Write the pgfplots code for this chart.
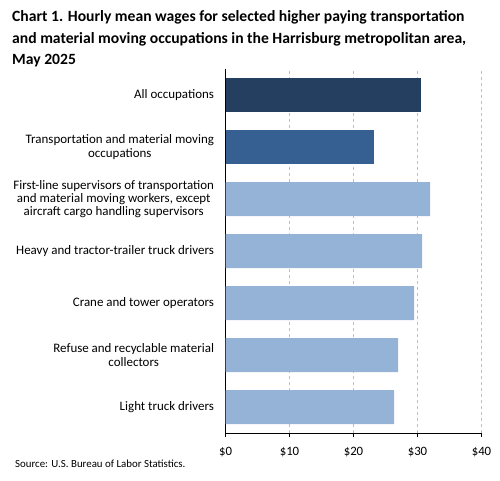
\documentclass[border=0pt]{standalone}
\usepackage{pgfplots}
\pgfplotsset{compat=1.18}
\usepackage{fontspec}
\setmainfont{Carlito}
\definecolor{cdark}{HTML}{243F60}
\definecolor{cmid}{HTML}{366092}
\definecolor{clight}{HTML}{95B3D7}
\begin{document}
\begin{tikzpicture}[x=1bp,y=1bp]
\path[use as bounding box] (0,0) rectangle (500,-481);
\begin{scope}[every node/.style={anchor=base west, inner sep=0pt, font=\fontsize{15.7}{18}\selectfont\bfseries}]
\node at (12,-22) {Chart 1. Hourly mean wages for selected higher paying transportation};
\node at (12,-43.5) {and material moving occupations in the Harrisburg metropolitan area,};
\node at (12,-65) {May 2025};
\end{scope}
\node[anchor=base west, inner sep=0pt, font=\fontsize{10.9}{12}\selectfont] at (15,-467) {Source: U.S. Bureau of Labor Statistics.};
\begin{axis}[
  at={(225.5bp,-433bp)}, anchor=south west,
  width=256bp, height=364bp, scale only axis,
  xbar, bar width=34bp, bar shift=0pt,
  xmin=0, xmax=40, ymin=0.5, ymax=7.5,
  axis x line*=bottom, axis y line*=left,
  axis line style={black, line width=0.9bp},
  xtick={0,10,20,30,40},
  xticklabel={\$\pgfmathprintnumber{\tick}},
  xmajorgrids, grid style={dashed, black!25, line width=0.6bp},
  tick align=outside, major tick length=4bp,
  xtick style={black, line width=0.9bp},
  ytick={1,...,7},
  ytick style={draw=none},
  yticklabels={Light truck drivers, {Refuse and recyclable material\\collectors}, Crane and tower operators, Heavy and tractor-trailer truck drivers, {First-line supervisors of transportation\\and material moving workers, except\\aircraft cargo handling supervisors}, {Transportation and material moving\\occupations}, All occupations},
  yticklabel style={align=center, font=\fontsize{13}{13.2}\selectfont, xshift=-4bp},
  xticklabel style={font=\fontsize{12.8}{14}\selectfont, yshift=-7bp},
  /pgf/number format/assume math mode=true,
  clip=false,
]
\addplot[draw=none, fill=cdark] coordinates {(30.58,7)};
\addplot[draw=none, fill=cmid] coordinates {(23.23,6)};
\addplot[draw=none, fill=clight] coordinates {(31.98,5) (30.73,4) (29.48,3) (26.98,2) (26.35,1)};
\end{axis}
\end{tikzpicture}
\end{document}
